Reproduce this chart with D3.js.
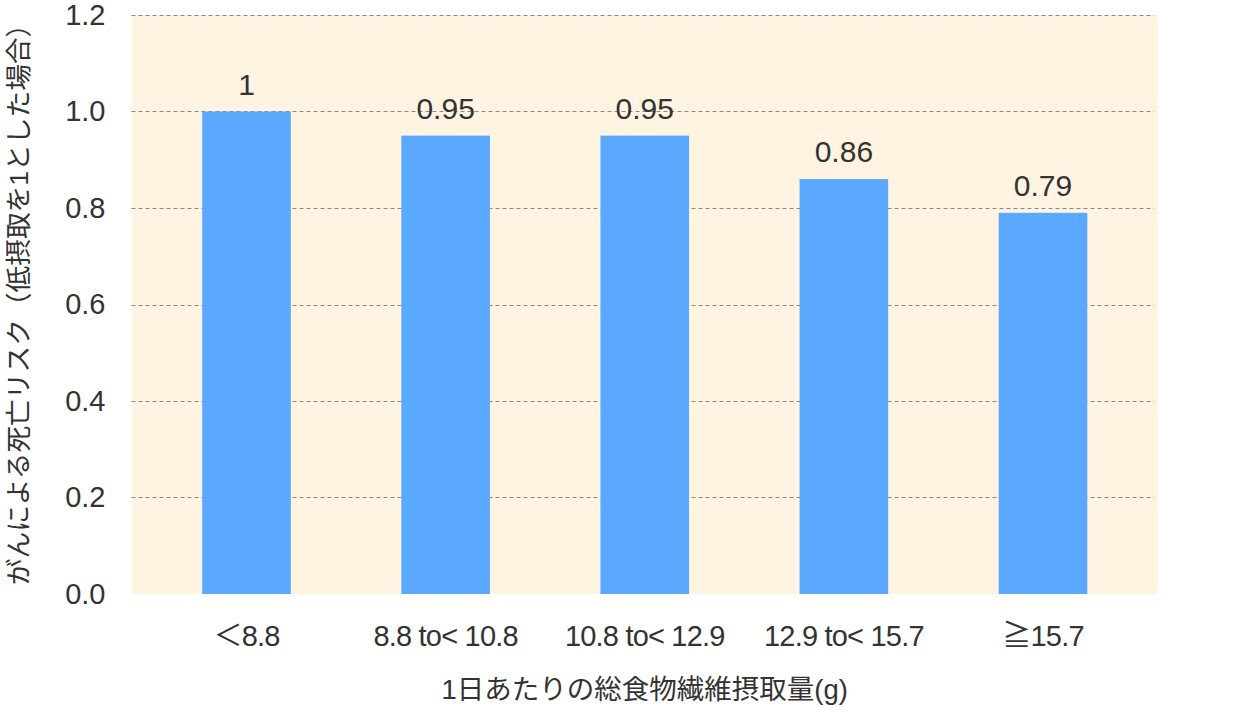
<!DOCTYPE html>
<html>
<head>
<meta charset="utf-8">
<script src="https://cdn.jsdelivr.net/npm/d3@7"></script>
<style>
  body { margin: 0; background: #fff; }
  text { font-family: "Liberation Sans", "Noto Sans CJK JP", sans-serif; fill: #333; }
</style>
</head>
<body>
<svg width="1258" height="725"></svg>
<script>
var categories = ["＜8.8", "8.8 to< 10.8", "10.8 to< 12.9", "12.9 to< 15.7", "≧15.7"];
var values = [1, 0.95, 0.95, 0.86, 0.79];
var valueLabels = ["1", "0.95", "0.95", "0.86", "0.79"];
var yTicks = [0, 0.2, 0.4, 0.6, 0.8, 1.0, 1.2];
var xTitle = "1日あたりの総食物繊維摂取量(g)";
var yTitle = "がんによる死亡リスク（低摂取を1とした場合）";

function main(){
    var svg = d3.select("svg");
    var left = 131.5, right = 1158, top = 15, bottom = 594;

    var x = d3.scaleBand().domain(categories).range([left, right])
        .paddingInner(0.555).paddingOuter(0.355);
    var y = d3.scaleLinear().domain([0, 1.2]).range([bottom, top]);

    // plot background
    svg.append("rect")
        .attr("x", left).attr("y", top)
        .attr("width", right - left).attr("height", bottom - top)
        .attr("fill", "#fff4e1");

    // grid lines
    svg.append("g")
        .selectAll("line")
        .data(yTicks.filter(function(d){ return d > 0; }))
        .enter().append("line")
        .attr("x1", left).attr("x2", right - 4)
        .attr("y1", function(d){ return Math.round(y(d)) + 0.5; })
        .attr("y2", function(d){ return Math.round(y(d)) + 0.5; })
        .attr("stroke", "#8a8a8a")
        .attr("stroke-width", 1)
        .attr("stroke-dasharray", "4,3");

    // y axis labels
    var yAxis = svg.append("g")
        .attr("transform", "translate(" + left + ",0)")
        .call(d3.axisLeft(y).tickValues(yTicks).tickFormat(d3.format(".1f")).tickSize(0).tickPadding(26));
    yAxis.select(".domain").remove();
    yAxis.selectAll("text")
        .attr("font-size", "29px")
        .attr("fill", "#333")
        .style("font-family", "'Liberation Sans', sans-serif");

    // bars
    svg.selectAll(".bar")
        .data(values)
        .enter().append("rect")
        .attr("class", "bar")
        .attr("x", function(d, i){ return x(categories[i]); })
        .attr("y", function(d){ return y(d); })
        .attr("width", x.bandwidth())
        .attr("height", function(d){ return bottom - y(d); })
        .attr("fill", "#5aa8ff");

    // value labels
    svg.selectAll(".val")
        .data(values)
        .enter().append("text")
        .attr("class", "val")
        .attr("x", function(d, i){ return x(categories[i]) + x.bandwidth() / 2; })
        .attr("y", function(d){ return y(d) - 17; })
        .attr("text-anchor", "middle")
        .attr("font-size", "30px")
        .text(function(d, i){ return valueLabels[i]; });

    // x axis labels
    var xAxis = svg.append("g")
        .attr("transform", "translate(0," + bottom + ")")
        .call(d3.axisBottom(x).tickSize(0).tickPadding(31));
    xAxis.select(".domain").remove();
    xAxis.selectAll("text")
        .attr("font-size", "29px")
        .attr("fill", "#333")
        .style("font-family", "'Liberation Sans', 'Noto Sans CJK JP', sans-serif")
        .style("letter-spacing", "-0.8px");

    // axis titles
    svg.append("text")
        .attr("x", (left + right) / 2)
        .attr("y", 699)
        .attr("text-anchor", "middle")
        .attr("font-size", "27.5px")
        .text(xTitle);

    svg.append("text")
        .attr("transform", "translate(28," + 298 + ") rotate(-90)")
        .attr("text-anchor", "middle")
        .attr("font-size", "26.7px")
        .text(yTitle);
}
main();
</script>
</body>
</html>
